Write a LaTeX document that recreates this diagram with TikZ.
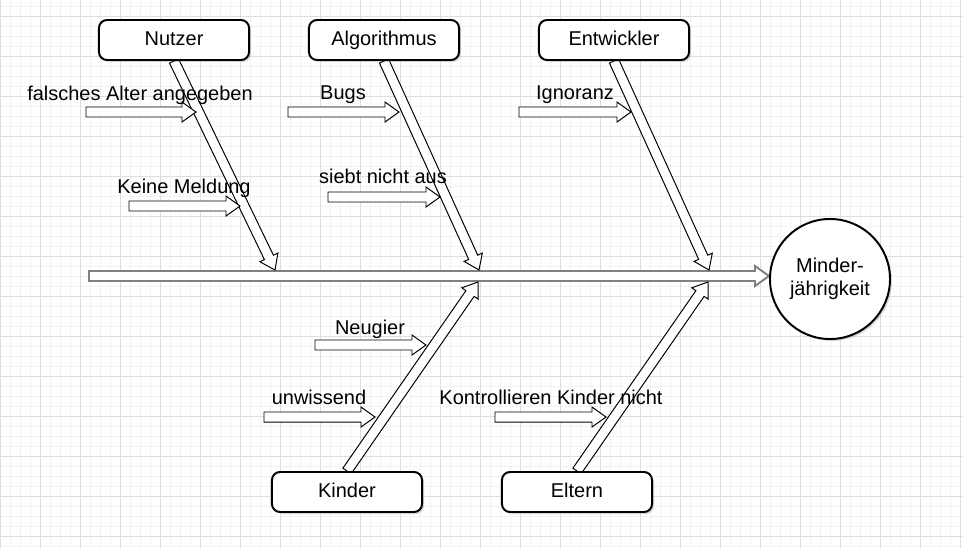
\documentclass[tikz,border=0pt]{standalone}
\usepackage{fontspec}
\setmainfont{Liberation Sans}
\usetikzlibrary{calc,shadows}

\pgfdeclarelayer{paper}
\pgfdeclarelayer{bones}
\pgfsetlayers{paper,bones,main}

% Sizes of the hollow arrows
\newcommand{\bonehalf}{0.125cm}
\newcommand{\headhalf}{0.25cm}
\newcommand{\headlen}{0.35cm}

% Hollow block arrow from #2 to the tip #3
\newcommand{\blockarrow}[3][]{%
  \coordinate (ba-h) at ($(#3)!\headlen!(#2)$);
  \draw[blockline,#1]
    ($(#2)!\bonehalf!90:(#3)$) -- ($(ba-h)!\bonehalf!90:(#3)$) --
    ($(ba-h)!\headhalf!90:(#3)$) -- (#3) --
    ($(ba-h)!\headhalf!-90:(#3)$) -- ($(ba-h)!\bonehalf!-90:(#3)$) --
    ($(#2)!\bonehalf!-90:(#3)$) -- cycle;
}

\begin{document}
\begin{tikzpicture}[x=0.025cm, y=-0.025cm,
  font=\fontsize{14.2}{16.5}\selectfont,
  cause/.style={draw, line width=1.4pt, rounded corners=0.2cm, fill=white,
    minimum width=3.75cm, minimum height=1cm, text height=0.72em, text depth=0pt,
    drop shadow={shadow xshift=0.05cm, shadow yshift=-0.05cm, opacity=0.3}},
  effect/.style={draw, circle, line width=1.4pt, fill=white, minimum size=3cm,
    align=center, inner sep=0pt,
    drop shadow={shadow xshift=0.05cm, shadow yshift=-0.05cm, opacity=0.3}},
  reason/.style={anchor=base, inner sep=0pt},
  blockline/.style={draw=black, line width=0.7pt, fill=white, line join=miter}]

\useasboundingbox (0,0) rectangle (963,548);

% Draw the paper grid
\begin{pgfonlayer}{paper}
\fill[white] (0,0) rectangle (963,548);
\draw[black!5, line width=0.6pt, step=0.25cm, yshift=-0.4cm] (0,-16) grid (963,532);
\draw[black!13, line width=0.7pt, step=1cm, yshift=-0.4cm] (0,-16) grid (963,532);
\end{pgfonlayer}

% Draw the causes and the effect
\node[cause] (nutzer) at (174,40) {Nutzer};
\node[cause] (algo) at (384,40) {Algorithmus};
\node[cause] (entw) at (614,40) {Entwickler};
\node[cause] (kinder) at (347,492) {Kinder};
\node[cause] (eltern) at (577,492) {Eltern};
\node[effect] (eff) at (830,279) {Minder-\\jährigkeit};

% Draw the reasons
\node[reason] (falsch) at (140,100) {falsches Alter angegeben};
\node[reason] (meldung) at (184,193) {Keine Meldung};
\node[reason] (bugs) at (343,99) {Bugs};
\node[reason] (sieb) at (383,183) {siebt nicht aus};
\node[reason] (ignor) at (575,99) {Ignoranz};
\node[reason] (neugier) at (370,334) {Neugier};
\node[reason] (unwiss) at (319,404) {unwissend};
\node[reason] (kontroll) at (551,404) {Kontrollieren Kinder nicht};

% Ends of the arrows
\coordinate (spine) at (89,276);
\coordinate (spine-end) at (769,276);
\coordinate (nutzer-t) at (275,270);
\coordinate (algo-t) at (479,270);
\coordinate (entw-t) at (709,270);
\coordinate (kinder-t) at (478,282);
\coordinate (eltern-t) at (708,282);

\coordinate (falsch-s) at (86,112);   \coordinate (falsch-t) at (196,112);
\coordinate (meldung-s) at (129,206); \coordinate (meldung-t) at (240,206);
\coordinate (bugs-s) at (288,112);    \coordinate (bugs-t) at (399,112);
\coordinate (sieb-s) at (328,197);    \coordinate (sieb-t) at (440,197);
\coordinate (ignor-s) at (519,112);   \coordinate (ignor-t) at (631,112);
\coordinate (neugier-s) at (315,345); \coordinate (neugier-t) at (426,345);
\coordinate (unwiss-s) at (264,417);  \coordinate (unwiss-t) at (375,417);
\coordinate (kontroll-s) at (495,417); \coordinate (kontroll-t) at (606,417);

\begin{pgfonlayer}{bones}
% Draw the spine
\blockarrow[draw=black!50, line width=1.4pt]{spine}{spine-end}

% Draw the bones
\blockarrow{nutzer.south}{nutzer-t}
\blockarrow{algo.south}{algo-t}
\blockarrow{entw.south}{entw-t}
\blockarrow{kinder.north}{kinder-t}
\blockarrow{eltern.north}{eltern-t}

% Draw the small arrows
\blockarrow{falsch-s}{falsch-t}
\blockarrow{meldung-s}{meldung-t}
\blockarrow{bugs-s}{bugs-t}
\blockarrow{sieb-s}{sieb-t}
\blockarrow{ignor-s}{ignor-t}
\blockarrow{neugier-s}{neugier-t}
\blockarrow{unwiss-s}{unwiss-t}
\blockarrow{kontroll-s}{kontroll-t}
\end{pgfonlayer}

\end{tikzpicture}
\end{document}
